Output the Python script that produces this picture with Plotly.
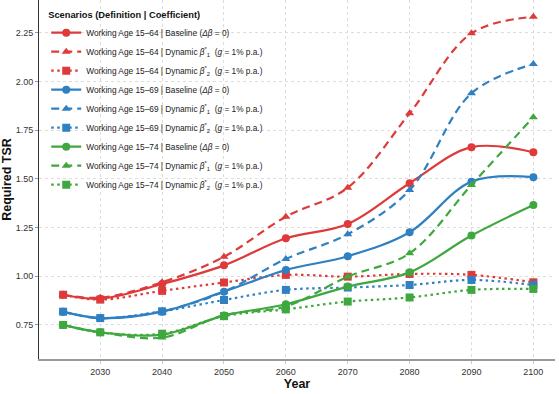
import plotly.graph_objects as go

years = [2024, 2030, 2040, 2050, 2060, 2070, 2080, 2090, 2100]

# Working Age 15-64
r_base = [0.905, 0.885, 0.960, 1.056, 1.195, 1.269, 1.478, 1.663, 1.637]
r_dyn1 = [0.905, 0.890, 0.969, 1.100, 1.306, 1.455, 1.837, 2.248, 2.333]
r_dyn2 = [0.905, 0.880, 0.925, 0.968, 1.007, 0.998, 1.012, 1.007, 0.969]
# Working Age 15-69
b_base = [0.818, 0.785, 0.818, 0.921, 1.032, 1.103, 1.226, 1.486, 1.509]
b_dyn1 = [0.818, 0.785, 0.820, 0.921, 1.089, 1.216, 1.443, 1.940, 2.090]
b_dyn2 = [0.818, 0.785, 0.820, 0.878, 0.930, 0.942, 0.955, 0.981, 0.955]
# Working Age 15-74
g_base = [0.750, 0.712, 0.700, 0.798, 0.856, 0.947, 1.020, 1.209, 1.366]
g_dyn1 = [0.750, 0.712, 0.685, 0.800, 0.845, 0.998, 1.118, 1.469, 1.817]
g_dyn2 = [0.750, 0.712, 0.705, 0.795, 0.830, 0.870, 0.891, 0.930, 0.935]

y_ticks = [0.75, 1.00, 1.25, 1.50, 1.75, 2.00, 2.25]
x_ticks = [2030, 2040, 2050, 2060, 2070, 2080, 2090, 2100]

RED, BLUE, GREEN = "#DE3A3A", "#2F80C2", "#3EA83E"

groups = [("15–64", RED, r_base, r_dyn1, r_dyn2),
          ("15–69", BLUE, b_base, b_dyn1, b_dyn2),
          ("15–74", GREEN, g_base, g_dyn1, g_dyn2)]

fig = go.Figure()
for age, col, base, d1, d2 in groups:
    specs = [
        (base, "solid", "circle", f"Working Age {age} | Baseline (<i>Δβ</i> = 0)"),
        (d1, "8px,5px", "triangle-up", f"Working Age {age} | Dynamic <i>β</i><sup>*</sup><sub>1</sub>  (<i>g</i> = 1% p.a.)"),
        (d2, "2.5px,3.5px", "square", f"Working Age {age} | Dynamic <i>β</i><sup>*</sup><sub>2</sub>  (<i>g</i> = 1% p.a.)"),
    ]
    for vals, dash, sym, name in specs:
        fig.add_trace(go.Scatter(
            x=years, y=vals, name=name, mode="lines+markers",
            line=dict(color=col, width=2.2, dash=dash, shape="spline", smoothing=1.0),
            marker=dict(color=col, symbol=sym, size=8),
        ))

font_family = "Liberation Sans, Arial, sans-serif"
fig.update_layout(
    width=559, height=394,
    margin=dict(l=39, r=4, t=0, b=35),
    paper_bgcolor="white", plot_bgcolor="white",
    font=dict(family=font_family, size=9, color="#333333"),
    showlegend=True,
    legend=dict(
        x=0.014, y=0.983, xanchor="left", yanchor="top",
        bgcolor="rgba(255,255,255,0)",
        font=dict(size=8.3, color="#222222"),
        title=dict(text="<b>Scenarios (Definition | Coefficient)</b>", font=dict(size=9.3, color="#111111")),
        itemwidth=30, tracegroupgap=0,
    ),
    xaxis=dict(
        range=[2020.1, 2103.5], tickmode="array", tickvals=x_ticks,
        showgrid=True, gridcolor="#dddddd", griddash="dot", gridwidth=1,
        showline=True, linecolor="#9a9a9a", linewidth=1.5,
        ticks="outside", ticklen=3, tickcolor="#cccccc",
        tickfont=dict(size=9, color="#333333"), zeroline=False,
        title=dict(text="<b>Year</b>", font=dict(size=12.5, color="#111111"), standoff=4),
    ),
    yaxis=dict(
        range=[0.575, 2.419], tickmode="array", tickvals=y_ticks,
        tickformat=".2f",
        showgrid=True, gridcolor="#dddddd", griddash="dot", gridwidth=1,
        showline=True, linecolor="#333333", linewidth=1,
        ticks="outside", ticklen=3, tickcolor="#999999",
        tickfont=dict(size=9, color="#333333"), zeroline=False,
        title=dict(text="<b>Required TSR</b>", font=dict(size=12.5, color="#111111"), standoff=4),
    ),
)

fig.write_html("out.html", config={"displayModeBar": False},
               post_script="document.body.style.margin='0';document.body.style.padding='0';")
